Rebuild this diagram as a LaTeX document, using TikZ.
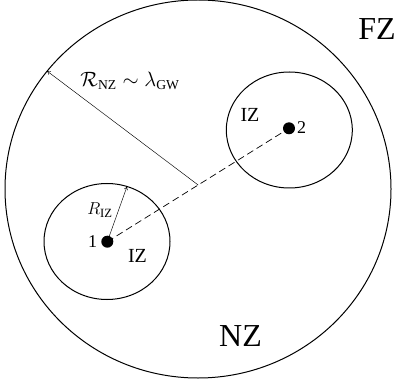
\documentclass[tikz,border=0pt]{standalone}
\usepackage{fontspec}
\setmainfont{Liberation Serif}
\usetikzlibrary{calc,positioning,arrows.meta,shapes.geometric}

\begin{document}
\begin{tikzpicture}[
    x=1pt, y=1pt,
    zone/.style={ellipse, draw=black, line width=1pt, inner sep=0pt},
    bigzone/.style={zone, minimum width=386pt, minimum height=378pt},
    innerzone/.style={zone, minimum width=126pt, minimum height=116pt},
    body/.style={circle, fill=black, inner sep=0pt, minimum size=12pt},
    radius/.style={-{To[length=4pt,width=4pt]}, line width=0.45pt},
    separation/.style={dash pattern=on 7pt off 4pt, line width=0.7pt},
    tag/.style={inner sep=0pt}
]
\useasboundingbox (0,0) rectangle (395,388);

\node[bigzone] (NZ) at (198,199) {};
\node[innerzone] (IZone1) at (107,146.5) {};
\node[innerzone] (IZone2) at (289.3,258) {};

\node[body] (Body1) at (107.3,146.3) {};
\node[body] (Body2) at (289,259.7) {};
\coordinate (Mid) at ($(Body1.center)!0.5!(Body2.center)$);

\draw[separation] (Body1.center) -- (Body2.center);
\draw[radius] (Mid) -- (NZ.142.4);
\draw[radius] (Body1.center) -- (IZone1.70);

\node[tag, font=\fontsize{32}{32}\selectfont] (FZlabel) at (377,358.5) {FZ};
\node[tag, font=\fontsize{32}{32}\selectfont] (NZlabel) at (240.5,51.5) {NZ};
\node[tag, font=\fontsize{19.5}{19.5}\selectfont] (RNZlabel) at (130,307) {$\mathcal{R}_{\mathrm{NZ}}\sim\lambda_{\mathrm{GW}}$};
\node[tag, font=\fontsize{20}{20}\selectfont] (IZlabel2) at (250,273) {IZ};
\node[tag, font=\fontsize{18}{18}\selectfont] (Num2) at (301.5,260) {2};
\node[tag, font=\fontsize{18}{18}\selectfont] (RIZlabel) at (100,178) {$R_{\mathrm{IZ}}$};
\node[tag, font=\fontsize{18}{18}\selectfont] (Num1) at (92.5,146.5) {1};
\node[tag, font=\fontsize{20}{20}\selectfont] (IZlabel1) at (137.5,132) {IZ};
\end{tikzpicture}
\end{document}
